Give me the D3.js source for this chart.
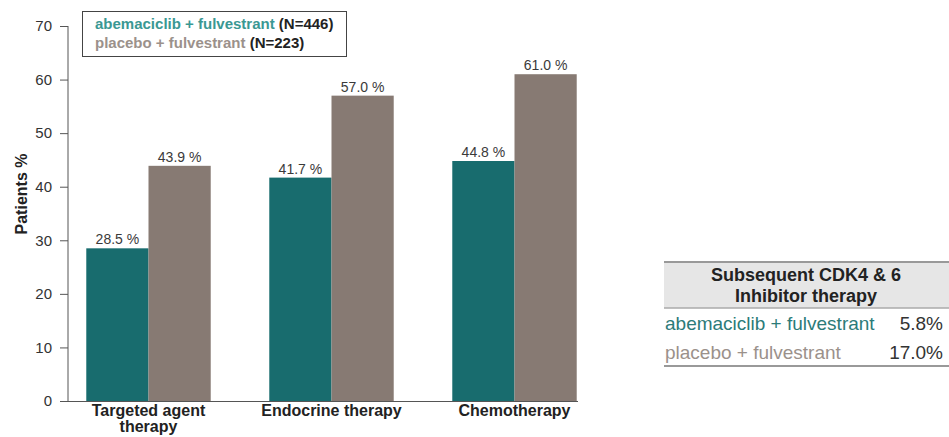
<!DOCTYPE html>
<html><head><meta charset="utf-8">
<script src="https://cdn.jsdelivr.net/npm/d3@7"></script>
<style>body{margin:0;background:#fff}svg{display:block;font-family:Arial,"Liberation Sans",sans-serif}</style>
</head><body><svg id="c" width="949" height="437"></svg>
<script>
const categories = [["Targeted agent","therapy"],["Endocrine therapy"],["Chemotherapy"]];
const seriesNames = ["abemaciclib + fulvestrant","placebo + fulvestrant"];
const seriesN = ["(N=446)","(N=223)"];
const abemaValues = [28.5, 41.7, 44.8];
const placeboValues = [43.9, 57.0, 61.0];
const yTicks = [0,10,20,30,40,50,60,70];
const tableHeader = ["Subsequent CDK4 & 6","Inhibitor therapy"];
const tableValues = ["5.8%","17.0%"];

const barColors = ["#186c6e","#877a73"];
const textColors = ["#3a9893","#9b918b"];
const tableTextColors = ["#2c7b79","#9b918b"];

const svg = d3.select("#c");
const catKeys = categories.map(c=>c.join(" "));
const y = d3.scaleLinear().domain([0,70]).range([401,26]);
const x0 = d3.scaleBand().domain(catKeys).range([57,606]).paddingInner(0.32).paddingOuter(0.16);
const x1 = d3.scaleBand().domain([0,1]).range([0,x0.bandwidth()]);

const data = catKeys.map((k,i)=>({k, vals:[abemaValues[i],placeboValues[i]]}));

const g = svg.append("g");
const groups = g.selectAll("g.grp").data(data).join("g").attr("transform",d=>`translate(${x0(d.k)},0)`);
groups.selectAll("rect").data(d=>d.vals.map((v,j)=>({v,j}))).join("rect")
  .attr("x",d=>x1(d.j)).attr("width",x1.bandwidth())
  .attr("y",d=>y(d.v)).attr("height",d=>y(0)-y(d.v))
  .attr("fill",d=>barColors[d.j]);
groups.selectAll("text.val").data(d=>d.vals.map((v,j)=>({v,j}))).join("text")
  .attr("class","val")
  .attr("x",d=>x1(d.j)+x1.bandwidth()/2).attr("y",d=>y(d.v)-4)
  .attr("text-anchor","middle").attr("font-size",14).attr("fill","#3a3a3a")
  .text(d=>d.v.toFixed(1)+" %");

// y axis
const yAxis = d3.axisLeft(y).tickValues(yTicks).tickSize(8).tickPadding(8);
const ya = svg.append("g").attr("transform","translate(68,0)").call(yAxis);
ya.select(".domain").attr("stroke","#555").attr("d","M0,26V401");
ya.selectAll(".tick line").attr("stroke","#555");
ya.selectAll(".tick text").attr("font-size",15).attr("fill","#333").attr("font-family","Arial,'Liberation Sans',sans-serif");

// x axis line
svg.append("line").attr("x1",60).attr("x2",578).attr("y1",401.5).attr("y2",401.5).attr("stroke","#555");

// category labels
categories.forEach((lines,i)=>{
  const cx = x0(catKeys[i])+x0.bandwidth()/2;
  const t = svg.append("text").attr("text-anchor","middle").attr("font-size",16).attr("font-weight","bold").attr("fill","#222")
    .attr("x",cx).attr("y",416);
  lines.forEach((l,li)=>t.append("tspan").attr("x",cx).attr("dy",li?15.5:0).text(l));
});

// y label
svg.append("text").attr("transform","translate(27,194) rotate(-90)").attr("text-anchor","middle")
  .attr("font-size",16).attr("font-weight","bold").attr("fill","#222").text("Patients %");

// legend
svg.append("rect").attr("x",82.5).attr("y",11.5).attr("width",264).attr("height",45).attr("fill","#fff").attr("stroke","#444");
seriesNames.forEach((s,i)=>{
  const t = svg.append("text").attr("x",95).attr("y",29+i*19).attr("font-size",15).attr("font-weight","bold");
  t.append("tspan").attr("fill",textColors[i]).text(s+" ");
  t.append("tspan").attr("fill","#222").text(seriesN[i]);
});

// table
const tg = svg.append("g");
tg.append("rect").attr("x",664).attr("y",262).attr("width",285).attr("height",46).attr("fill","#e6e6e6");
tg.append("line").attr("x1",664).attr("x2",949).attr("y1",262).attr("y2",262).attr("stroke","#999").attr("stroke-width",2);
tg.append("line").attr("x1",664).attr("x2",949).attr("y1",308).attr("y2",308).attr("stroke","#aaa").attr("stroke-width",1.5);
tg.append("line").attr("x1",664).attr("x2",949).attr("y1",366).attr("y2",366).attr("stroke","#999").attr("stroke-width",2);
tableHeader.forEach((h,i)=>tg.append("text").attr("x",806).attr("y",281+i*21).attr("text-anchor","middle")
  .attr("font-size",18).attr("font-weight","bold").attr("fill","#222").text(h));
seriesNames.forEach((s,i)=>{
  tg.append("text").attr("x",665).attr("y",330+i*29).attr("font-size",19).attr("fill",tableTextColors[i]).text(s);
  tg.append("text").attr("x",943).attr("y",330+i*29).attr("text-anchor","end").attr("font-size",19).attr("fill","#333").text(tableValues[i]);
});
</script></body></html>
